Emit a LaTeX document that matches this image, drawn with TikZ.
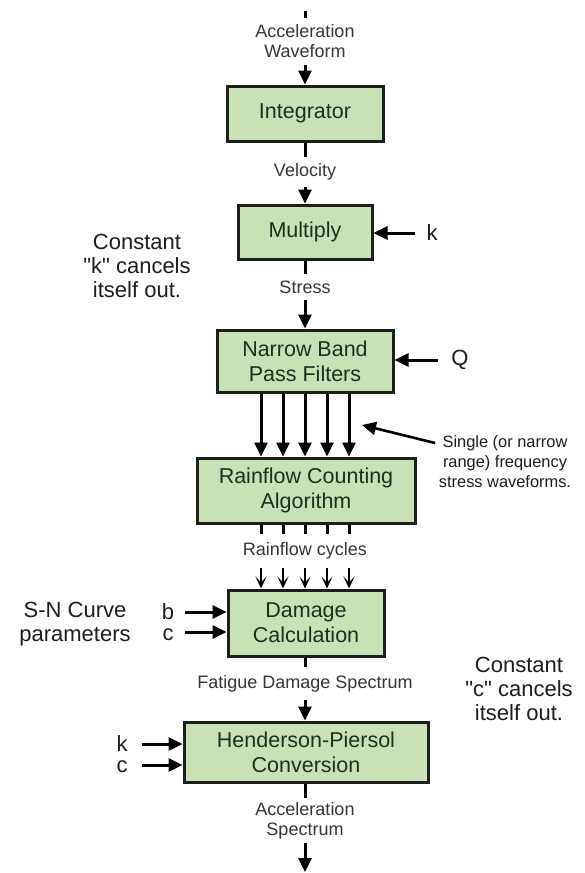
\documentclass[tikz,border=0pt]{standalone}
\usepackage{fontspec}
\setmainfont{Liberation Sans}
\usetikzlibrary{arrows.meta}
\definecolor{boxfill}{RGB}{200,226,182}
\definecolor{boxline}{RGB}{30,30,30}
\definecolor{boxtext}{RGB}{28,48,28}
\definecolor{labtext}{RGB}{55,55,55}
\definecolor{notetext}{RGB}{30,30,30}
\newcommand{\dq}{\textquotedbl}

\begin{document}
\begin{tikzpicture}[x=1pt,y=-1pt,
  stage/.style={draw=boxline, line width=3pt, fill=boxfill, text=boxtext,
    align=center, inner sep=0pt, font=\fontsize{21.5}{25}\selectfont},
  flowlabel/.style={text=labtext, align=center, inner sep=0pt,
    font=\fontsize{18}{20}\selectfont},
  note/.style={text=notetext, align=center, inner sep=0pt,
    font=\fontsize{22}{24}\selectfont},
  pair/.style={text=notetext, align=center, inner sep=0pt,
    font=\fontsize{22}{21}\selectfont},
  smallnote/.style={text=notetext, align=center, inner sep=0pt,
    font=\fontsize{16.4}{20}\selectfont},
  wire/.style={line width=3pt, draw=black},
  arr/.style={wire, -{Triangle[length=14pt,width=13pt]}},
  barb/.style={wire, line width=2.4pt, -{Stealth[length=12pt,width=11pt,inset=6pt]}},
]
\fill[white] (0,0) rectangle (584,873);
\useasboundingbox (0,0) rectangle (584,873);

% processing stages
\node[stage, minimum width=156pt, minimum height=55pt] (integ)  at (305,113.5) {Integrator};
\node[stage, minimum width=134pt, minimum height=54pt] (mult)   at (305,232)   {Multiply};
\node[stage, minimum width=176pt, minimum height=62pt] (narrow) at (305,361)   {Narrow Band\\Pass Filters};
\node[stage, minimum width=218pt, minimum height=65pt] (rain)   at (306,490.5) {Rainflow Counting\\Algorithm};
\node[stage, minimum width=156pt, minimum height=66pt] (dmg)    at (306,623)   {Damage\\Calculation};
\node[stage, minimum width=244pt, minimum height=60pt] (hp)     at (306,752)   {Henderson-Piersol\\Conversion};

% signal labels between the stages
\node[flowlabel, minimum height=47pt] (acc)  at (305,41.5) {Acceleration\\Waveform};
\node[flowlabel, minimum height=30pt] (vel)  at (305,172)  {Velocity};
\node[flowlabel, minimum height=26pt] (str)  at (305,287)  {Stress};
\node[flowlabel, minimum height=34pt] (cyc)  at (305,551)  {Rainflow cycles};
\node[flowlabel, minimum height=33pt] (fds)  at (305,683.5){Fatigue Damage Spectrum};
\node[flowlabel, minimum height=45pt] (accs) at (305,820.5){Acceleration\\Spectrum};
\coordinate (top) at (305,11);
\coordinate (bot) at (305,872);

% main signal path
\draw[wire] (top) -- (acc.north);
\draw[arr]  (acc.south) -- (integ.north);
\draw[wire] (integ.south) -- (vel.north);
\draw[arr]  (vel.south) -- (mult.north);
\draw[wire] (mult.south) -- (str.north);
\draw[arr]  (str.south) -- (narrow.north);
\foreach \dx in {-44,-22,0,22,44} {
  \draw[arr]  ([xshift=\dx pt]narrow.south) -- ([xshift=\dx pt]narrow.south |- rain.north);
  \draw[wire] ([xshift=\dx pt]narrow.south |- rain.south) -- ([xshift=\dx pt]cyc.north);
  \draw[barb] ([xshift=\dx pt]cyc.south) -- ([xshift=\dx pt]cyc.south |- dmg.north);
}
\draw[wire] (dmg.south -| fds.north) -- (fds.north);
\draw[arr]  (fds.south) -- (fds.south |- hp.north);
\draw[wire] (hp.south -| accs.north) -- (accs.north);
\draw[arr]  (accs.south) -- (bot);

% side inputs
\node[note] (klab) at (432,233) {k};
\coordinate (kin) at (415,233);
\draw[arr] (kin) -- (kin -| mult.east);

\node[note] (qlab) at (460,360) {Q};
\coordinate (qin) at (438,360);
\draw[arr] (qin) -- (qin -| narrow.east);

\node[pair] (bclab) at (168,622) {b\\c};
\coordinate (bin) at (185,612);
\coordinate (cin) at (185,632);
\draw[arr] (bin) -- (bin -| dmg.west);
\draw[arr] (cin) -- (cin -| dmg.west);

\node[pair] (kclab) at (122,754) {k\\c};
\coordinate (k2in) at (142,744);
\coordinate (c2in) at (142,765);
\draw[arr] (k2in) -- (k2in -| hp.west);
\draw[arr] (c2in) -- (c2in -| hp.west);

% remarks
\node[note] (knote) at (137,266) {Constant\\\dq k\dq{} cancels\\itself out.};
\node[note] (sn)    at (75,624)  {S-N Curve\\parameters};
\node[note] (cnote) at (519,689) {Constant\\\dq c\dq{} cancels\\itself out.};
\node[smallnote] (single) at (505,462) {Single (or narrow\\range) frequency\\stress waveforms.};
\coordinate (ptrfrom) at (435,443);
\coordinate (ptrto)   at (362,425);
\draw[arr, line width=2.6pt] (ptrfrom) -- (ptrto);
\end{tikzpicture}
\end{document}
